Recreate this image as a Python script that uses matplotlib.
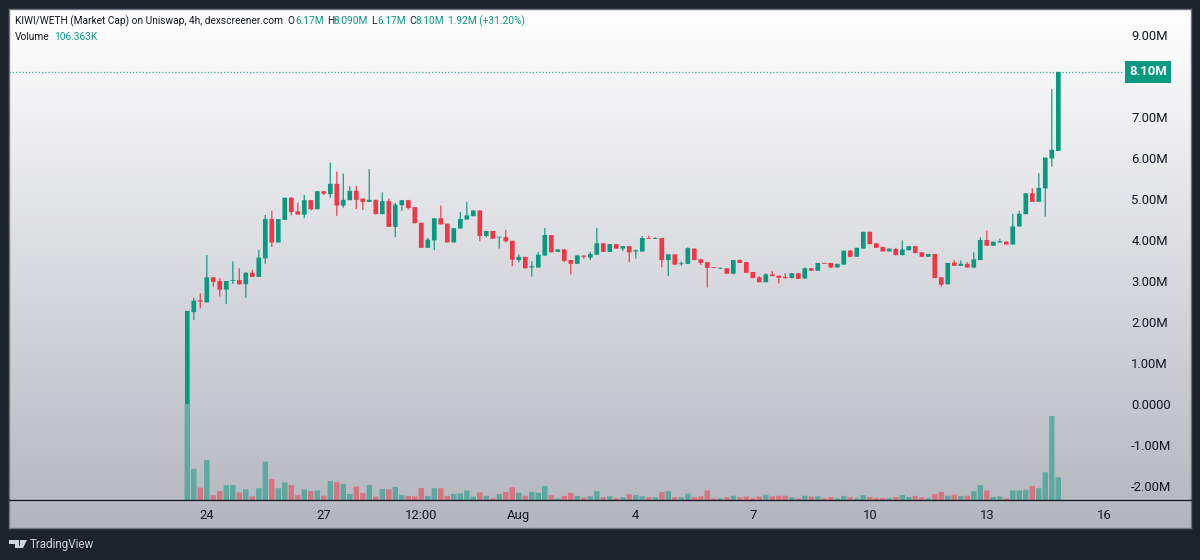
import numpy as np
import matplotlib
matplotlib.use("Agg")
import matplotlib.pyplot as plt
from matplotlib.lines import Line2D
from matplotlib.patches import Polygon, Rectangle

FONT = ['Roboto', 'DejaVu Sans']
plt.rcParams['font.family'] = FONT

# ---- data (millions of market cap, thousands of volume) ----
opens = [0.00,2.24,2.53,2.48,3.09,3.00,2.79,3.00,3.02,2.92,
3.20,3.10,3.55,4.51,3.94,4.49,5.03,4.70,4.62,4.97,
4.75,5.19,5.12,5.37,4.84,4.97,5.20,5.01,4.93,4.98,
4.63,4.95,4.32,4.85,4.97,4.80,4.42,3.81,3.99,4.53,
4.40,3.94,4.28,4.50,4.58,4.72,4.10,4.22,4.06,4.07,
3.98,3.51,3.59,3.33,3.33,3.62,4.12,3.71,3.77,3.51,
3.42,3.62,3.57,3.64,3.92,3.71,3.90,3.79,3.85,3.72,
3.72,4.04,4.03,4.05,3.51,3.65,3.41,3.42,3.79,3.53,
3.46,3.33,3.30,3.31,3.18,3.51,3.46,3.22,3.09,2.97,
3.16,3.13,3.10,3.07,3.19,3.06,3.31,3.25,3.44,3.44,
3.33,3.40,3.74,3.59,3.79,4.20,3.92,3.83,3.72,3.78,
3.63,3.75,3.85,3.70,3.59,3.66,3.09,2.92,3.45,3.37,
3.42,3.33,3.51,4.00,3.86,3.94,3.96,3.89,4.33,4.63,
5.14,4.93,5.26,5.99,6.17]
closes = [2.27,2.52,2.50,3.09,2.98,2.79,3.00,3.02,2.92,3.20,
3.10,3.57,4.51,3.94,4.51,5.03,4.68,4.62,4.97,4.75,
5.19,5.13,5.37,4.84,4.98,5.20,4.98,4.93,4.98,4.63,
4.95,4.32,4.86,4.97,4.78,4.41,3.81,4.01,4.53,4.38,
3.94,4.29,4.51,4.60,4.72,4.10,4.22,4.03,4.07,3.97,
3.52,3.59,3.31,3.36,3.64,4.12,3.70,3.77,3.49,3.42,
3.62,3.59,3.66,3.92,3.71,3.90,3.79,3.85,3.70,3.75,
4.05,4.03,4.05,3.51,3.65,3.40,3.43,3.80,3.51,3.44,
3.32,3.32,3.32,3.18,3.51,3.44,3.20,3.07,2.97,3.16,
3.12,3.08,3.07,3.19,3.05,3.31,3.25,3.44,3.42,3.33,
3.42,3.74,3.59,3.81,4.20,3.90,3.81,3.72,3.79,3.63,
3.77,3.85,3.68,3.59,3.66,3.07,2.91,3.44,3.37,3.42,
3.33,3.53,4.00,3.86,3.96,3.97,3.89,4.33,4.64,5.14,
4.93,5.27,6.01,6.20,8.10]
highs = [2.27,2.58,2.70,3.63,3.09,3.07,3.00,3.48,3.31,3.22,
3.27,3.76,4.61,4.71,4.51,5.03,5.05,4.91,5.10,4.98,
5.19,5.19,5.89,5.67,5.62,5.31,5.32,5.01,5.73,4.98,
5.16,5.01,4.91,4.97,4.98,4.80,4.42,4.05,4.53,4.84,
4.40,4.29,4.68,4.93,4.72,4.72,4.22,4.22,4.07,4.25,
3.98,3.65,3.59,3.48,3.70,4.29,4.12,3.77,3.77,3.51,
3.64,3.62,3.71,4.29,3.92,3.90,3.90,3.85,3.85,3.77,
4.09,4.11,4.07,4.05,3.65,3.65,3.47,3.82,3.79,3.53,
3.46,3.33,3.33,3.31,3.51,3.53,3.46,3.22,3.12,3.19,
3.24,3.13,3.19,3.19,3.19,3.33,3.31,3.44,3.44,3.44,
3.42,3.74,3.76,3.81,4.20,4.20,3.92,3.83,3.79,3.81,
3.99,3.85,3.85,3.70,3.66,3.66,3.09,3.44,3.51,3.50,
3.46,3.70,4.06,4.23,3.96,4.03,3.96,4.64,4.71,5.14,
5.26,5.63,6.01,7.68,8.10]
lows = [0.00,2.05,2.33,2.48,2.86,2.62,2.44,2.93,2.92,2.59,
3.10,3.10,3.42,3.83,3.94,4.49,4.60,4.62,4.53,4.72,
4.75,5.10,5.03,4.59,4.79,4.97,4.75,4.73,4.93,4.63,
4.63,4.32,4.07,4.71,4.74,4.41,3.81,3.81,3.75,4.38,
3.94,3.94,4.28,4.50,4.58,3.97,4.06,4.03,3.79,3.94,
3.36,3.45,3.31,3.11,3.33,3.62,3.70,3.71,3.46,3.16,
3.42,3.54,3.51,3.64,3.71,3.71,3.79,3.73,3.46,3.55,
3.72,4.03,4.03,3.33,3.12,3.40,3.37,3.42,3.51,3.39,
2.84,3.31,3.29,3.18,3.16,3.44,3.20,3.07,2.97,2.97,
3.12,2.94,3.06,3.07,3.05,3.06,3.25,3.25,3.42,3.31,
3.33,3.40,3.58,3.59,3.79,3.90,3.81,3.72,3.72,3.63,
3.63,3.75,3.68,3.59,3.59,3.07,2.86,2.92,3.37,3.37,
3.33,3.31,3.51,3.86,3.86,3.94,3.89,3.89,4.33,4.63,
4.93,4.93,4.57,5.79,6.17]
volumes = [450,145,58,188,23,42,70,70,36,50,17,55,180,98,55,83,70,23,50,42,45,20,89,84,75,28,63,33,70,16,52,50,61,23,19,17,56,19,55,55,19,28,31,45,16,36,20,8,28,38,60,
34,20,38,34,66,23,8,19,34,19,11,17,41,13,17,9,13,27,23,17,13,13,38,41,13,13,30,13,17,45,8,8,13,20,13,16,9,16,25,17,20,20,13,8,
20,16,17,8,13,8,19,13,8,23,14,9,9,9,14,23,14,19,13,9,28,38,20,25,19,20,42,70,45,14,17,8,45,45,48,66,55,130,394,106]
tick_positions = [3, 21, 36, 51, 69, 87, 105, 123, 141]
tick_labels = ['24', '27', '12:00', 'Aug', '4', '7', '10', '13', '16']
price_ticks = [9, 7, 6, 5, 4, 3, 2, 1, 0, -1, -2]
price_labels = ['9.00M', '7.00M', '6.00M', '5.00M', '4.00M', '3.00M', '2.00M', '1.00M', '0.0000', '-1.00M', '-2.00M']
last_price = 8.10
last_label = '8.10M'

assert len(opens) == len(closes) == len(highs) == len(lows) == len(volumes) == 135

GREEN = '#089981'
RED = '#f23645'
DARK = '#1e222d'
INK = '#131722'
W, H = 1200, 560

x = np.arange(len(opens))
o, c, hi, lo = map(np.array, (opens, closes, highs, lows))
colors = [GREEN if cc >= oo else RED for oo, cc in zip(o, c)]

fig = plt.figure(figsize=(12, 5.6), dpi=100, facecolor=DARK)

def box(l, t, r, b):
    return [l / W, 1 - b / H, (r - l) / W, (b - t) / H]

# panel with vertical gradient
bg = fig.add_axes(box(9, 9, 1191, 528), zorder=0)
grad = np.linspace(0, 1, 256)[:, None]
top = np.array([0xff, 0xff, 0xff]) / 255
bot = np.array([0xb4, 0xb6, 0xbf]) / 255
bg.imshow(top + (bot - top) * grad[..., None], aspect='auto', extent=(0, 1, 0, 1))
bg.set_xticks([]); bg.set_yticks([])
for s in bg.spines.values():
    s.set_color('#6f7480'); s.set_linewidth(1)

# axes geometry: pixel 187.3 = candle 0, 6.5 px per candle; 41 px per million
L, R, T, B = 9, 1118, 9, 500
x0, dx = 187.3, 6.5
xlim = ((L - x0) / dx, (R - x0) / dx)
ylim = ((404 - B) / 41, (404 - T) / 41)

# volume pane
vax = fig.add_axes(box(L, T, R, B), zorder=1)
vax.patch.set_alpha(0)
vbars = vax.bar(x, volumes, width=0.84, color=colors, alpha=0.52, linewidth=0)
for b in vbars:
    b.set_snap(False)
vax.set_xlim(xlim)
vax.set_ylim(0, (B - T) * 4.69)
vax.axis('off')

# candles
ax = fig.add_axes(box(L, T, R, B), zorder=2)
ax.patch.set_alpha(0)
wicks = ax.vlines(x, lo, hi, colors=colors, linewidth=1.0, alpha=0.85)
wicks.set_snap(False)
bodies = ax.bar(x, np.maximum(np.abs(c - o), 0.02), bottom=np.minimum(o, c), width=0.72, color=colors, linewidth=0)
for b in bodies:
    b.set_snap(False)
ax.set_xlim(xlim)
ax.set_ylim(ylim)
ax.plot([0, 1.004], [last_price, last_price], transform=ax.get_yaxis_transform(), clip_on=False,
        color=GREEN, linewidth=0.9, linestyle=(0, (1, 1.6)), alpha=0.8)
for s in ax.spines.values():
    s.set_visible(False)
ax.set_xticks(tick_positions, tick_labels)
ax.tick_params(axis='x', length=0, pad=6.5, labelsize=9.4, labelcolor=INK)
ax.yaxis.tick_right()
ax.set_yticks(price_ticks, price_labels)
ax.tick_params(axis='y', length=0, pad=9.5, labelsize=9.4, labelcolor=INK)
ax.annotate(last_label, xy=(1, last_price), xycoords=('axes fraction', 'data'),
            xytext=(30, 0), textcoords='offset pixels', ha='center', va='center',
            fontsize=9.4, fontweight='bold', color='white', annotation_clip=False,
            bbox=dict(boxstyle='square,pad=0.32', fc=GREEN, ec=GREEN, lw=0))

# time-axis separator
fig.add_artist(Line2D([9 / W, 1191 / W], [1 - 500 / H] * 2, color=INK, lw=0.9, zorder=5))

# legend rows
def label(px, py, s, color=INK, **kw):
    fig.text(px / W, 1 - py / H, s, color=color, fontsize=7.3, va='center', ha='left', zorder=6, **kw)

label(15, 21, 'KIWI/WETH (Market Cap) on Uniswap, 4h, dexscreener.com')
for px, s, col in [(287, 'O', INK), (295, '6.17M', GREEN), (327, 'H', INK), (334, '8.090M', GREEN),
                   (371, 'L', INK), (377, '6.17M', GREEN), (409, 'C', INK), (415, '8.10M', GREEN),
                   (448, '1.92M (+31.20%)', GREEN)]:
    label(px, 21, s, col)
label(15, 37, 'Volume')
label(54, 37, '106.363K', GREEN)

# TradingView mark
lc = '#d1d4dc'
tf = fig.transFigure
def P(pts):
    return [(a / W, 1 - b / H) for a, b in pts]
fig.add_artist(Polygon(P([(9, 540), (19, 540), (19, 548), (15, 548), (15, 544), (9, 544)]), closed=True, fc=lc, ec='none', transform=tf))
fig.add_artist(Rectangle((19.6 / W, 1 - 544 / H), 2.5 / W, 4 / H, fc=lc, ec='none', transform=tf))
fig.add_artist(Polygon(P([(22, 540), (27, 540), (23, 548), (18.5, 548)]), closed=True, fc=lc, ec='none', transform=tf))
fig.text(30 / W, 1 - 544.5 / H, 'TradingView', color=lc, fontsize=8.4, va='center', ha='left')

fig.savefig('out.png', dpi=100, facecolor=DARK)
